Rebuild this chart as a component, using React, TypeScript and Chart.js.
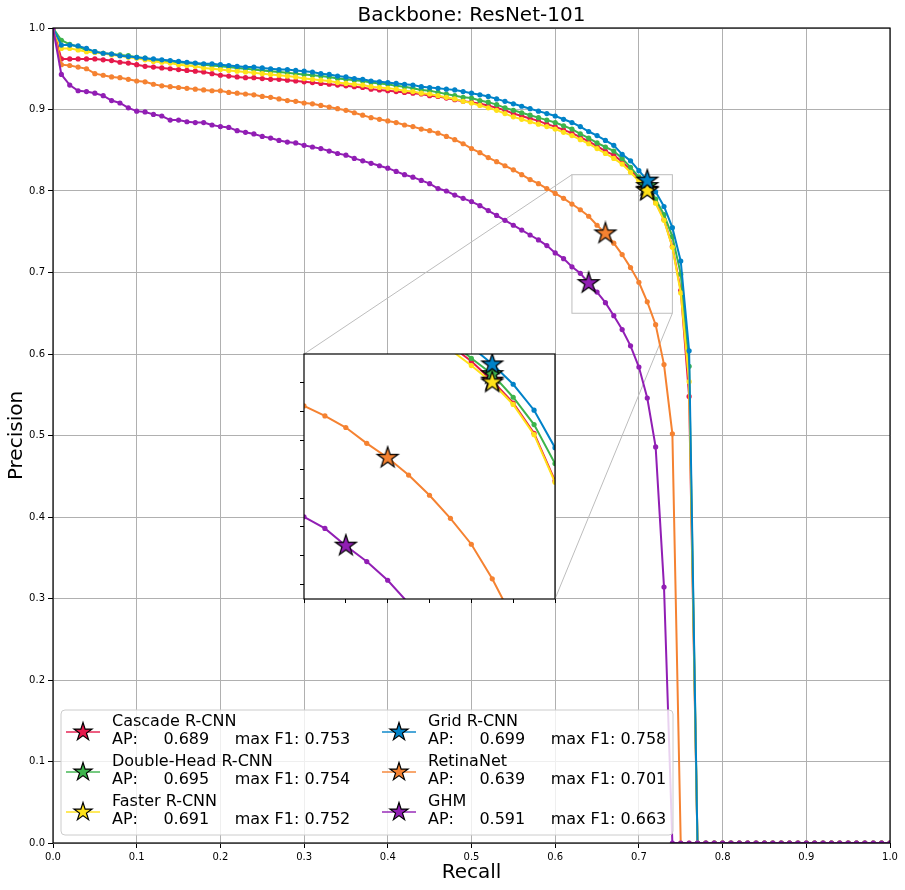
import React, { useEffect, useRef } from 'react';
import { Chart, registerables } from 'chart.js';

Chart.register(...registerables);
Chart.defaults.font.family = "'DejaVu Sans', sans-serif";

const TITLE = 'Backbone: ResNet-101';
const X_TITLE = 'Recall';
const Y_TITLE = 'Precision';

const RECALL = [
  0.00, 0.01, 0.02, 0.03, 0.04, 0.05, 0.06, 0.07, 0.08, 0.09,
  0.10, 0.11, 0.12, 0.13, 0.14, 0.15, 0.16, 0.17, 0.18, 0.19,
  0.20, 0.21, 0.22, 0.23, 0.24, 0.25, 0.26, 0.27, 0.28, 0.29,
  0.30, 0.31, 0.32, 0.33, 0.34, 0.35, 0.36, 0.37, 0.38, 0.39,
  0.40, 0.41, 0.42, 0.43, 0.44, 0.45, 0.46, 0.47, 0.48, 0.49,
  0.50, 0.51, 0.52, 0.53, 0.54, 0.55, 0.56, 0.57, 0.58, 0.59,
  0.60, 0.61, 0.62, 0.63, 0.64, 0.65, 0.66, 0.67, 0.68, 0.69,
  0.70, 0.71, 0.72, 0.73, 0.74, 0.75, 0.76, 0.77, 0.78, 0.79,
  0.80, 0.81, 0.82, 0.83, 0.84, 0.85, 0.86, 0.87, 0.88, 0.89,
  0.90, 0.91, 0.92, 0.93, 0.94, 0.95, 0.96, 0.97, 0.98, 0.99,
  1.00,
];

const CASCADE = [
  1.000, 0.962, 0.962, 0.962, 0.962, 0.962, 0.961, 0.960, 0.958, 0.957,
  0.955, 0.953, 0.952, 0.951, 0.950, 0.949, 0.948, 0.947, 0.946, 0.944,
  0.942, 0.941, 0.940, 0.939, 0.939, 0.938, 0.937, 0.937, 0.936, 0.935,
  0.934, 0.933, 0.932, 0.931, 0.930, 0.929, 0.928, 0.927, 0.925, 0.924,
  0.923, 0.922, 0.921, 0.920, 0.919, 0.917, 0.916, 0.914, 0.912, 0.910,
  0.909, 0.907, 0.905, 0.902, 0.899, 0.895, 0.892, 0.889, 0.886, 0.882,
  0.879, 0.875, 0.871, 0.866, 0.861, 0.855, 0.849, 0.844, 0.836, 0.826,
  0.815, 0.8015, 0.786, 0.765, 0.732, 0.678, 0.548, 0, 0, 0,
  0, 0, 0, 0, 0, 0, 0, 0, 0, 0,
  0, 0, 0, 0, 0, 0, 0, 0, 0, 0,
  0,
];

const DOUBLE_HEAD = [
  1.000, 0.985, 0.980, 0.977, 0.973, 0.971, 0.969, 0.968, 0.967, 0.966,
  0.964, 0.963, 0.961, 0.960, 0.959, 0.958, 0.957, 0.956, 0.955, 0.954,
  0.953, 0.952, 0.951, 0.950, 0.949, 0.948, 0.947, 0.946, 0.945, 0.944,
  0.943, 0.942, 0.941, 0.940, 0.938, 0.937, 0.936, 0.935, 0.933, 0.932,
  0.931, 0.929, 0.928, 0.926, 0.924, 0.923, 0.921, 0.919, 0.917, 0.915,
  0.914, 0.911, 0.909, 0.906, 0.902, 0.899, 0.896, 0.893, 0.890, 0.887,
  0.884, 0.880, 0.876, 0.870, 0.865, 0.859, 0.854, 0.849, 0.840, 0.829,
  0.817, 0.806, 0.790, 0.771, 0.744, 0.698, 0.585, 0, 0, 0,
  0, 0, 0, 0, 0, 0, 0, 0, 0, 0,
  0, 0, 0, 0, 0, 0, 0, 0, 0, 0,
  0,
];

const FASTER = [
  1.000, 0.975, 0.975, 0.973, 0.971, 0.970, 0.969, 0.967, 0.966, 0.964,
  0.963, 0.961, 0.959, 0.958, 0.957, 0.955, 0.954, 0.953, 0.951, 0.950,
  0.949, 0.948, 0.947, 0.946, 0.945, 0.944, 0.943, 0.942, 0.941, 0.940,
  0.938, 0.937, 0.936, 0.935, 0.933, 0.932, 0.931, 0.930, 0.928, 0.927,
  0.926, 0.925, 0.923, 0.922, 0.920, 0.919, 0.917, 0.915, 0.913, 0.910,
  0.908, 0.905, 0.902, 0.899, 0.895, 0.891, 0.888, 0.885, 0.882, 0.879,
  0.876, 0.872, 0.868, 0.863, 0.858, 0.852, 0.846, 0.840, 0.833, 0.823,
  0.812, 0.800, 0.785, 0.764, 0.731, 0.675, 0.566, 0, 0, 0,
  0, 0, 0, 0, 0, 0, 0, 0, 0, 0,
  0, 0, 0, 0, 0, 0, 0, 0, 0, 0,
  0,
];

const GRID = [
  1.000, 0.979, 0.979, 0.978, 0.975, 0.971, 0.969, 0.968, 0.966, 0.965,
  0.964, 0.963, 0.962, 0.961, 0.960, 0.959, 0.958, 0.957, 0.956, 0.956,
  0.955, 0.954, 0.953, 0.952, 0.952, 0.951, 0.950, 0.949, 0.949, 0.948,
  0.947, 0.946, 0.944, 0.943, 0.941, 0.940, 0.938, 0.937, 0.935, 0.934,
  0.933, 0.932, 0.931, 0.930, 0.928, 0.927, 0.926, 0.925, 0.924, 0.922,
  0.920, 0.918, 0.916, 0.913, 0.910, 0.907, 0.904, 0.901, 0.898, 0.895,
  0.892, 0.888, 0.884, 0.879, 0.873, 0.868, 0.862, 0.856, 0.845, 0.837,
  0.825, 0.813, 0.799, 0.781, 0.755, 0.714, 0.604, 0, 0, 0,
  0, 0, 0, 0, 0, 0, 0, 0, 0, 0,
  0, 0, 0, 0, 0, 0, 0, 0, 0, 0,
  0,
];

const RETINANET = [
  1.000, 0.955, 0.954, 0.952, 0.950, 0.944, 0.942, 0.940, 0.939, 0.937,
  0.935, 0.934, 0.931, 0.929, 0.928, 0.927, 0.926, 0.925, 0.924, 0.923,
  0.923, 0.921, 0.920, 0.919, 0.918, 0.916, 0.915, 0.913, 0.911, 0.910,
  0.908, 0.907, 0.905, 0.903, 0.901, 0.899, 0.896, 0.893, 0.890, 0.888,
  0.886, 0.884, 0.881, 0.879, 0.876, 0.874, 0.871, 0.867, 0.863, 0.858,
  0.852, 0.847, 0.841, 0.836, 0.831, 0.826, 0.820, 0.814, 0.809, 0.803,
  0.797, 0.791, 0.784, 0.777, 0.769, 0.758, 0.748, 0.736, 0.722, 0.706,
  0.688, 0.664, 0.636, 0.587, 0.502, 0, 0, 0, 0, 0,
  0, 0, 0, 0, 0, 0, 0, 0, 0, 0,
  0, 0, 0, 0, 0, 0, 0, 0, 0, 0,
  0,
];

const GHM = [
  1.000, 0.943, 0.930, 0.923, 0.922, 0.920, 0.917, 0.911, 0.908, 0.902,
  0.898, 0.897, 0.894, 0.892, 0.887, 0.887, 0.885, 0.884, 0.884, 0.881,
  0.879, 0.878, 0.874, 0.872, 0.870, 0.867, 0.865, 0.862, 0.860, 0.859,
  0.856, 0.854, 0.852, 0.849, 0.846, 0.844, 0.840, 0.837, 0.834, 0.831,
  0.828, 0.824, 0.820, 0.817, 0.813, 0.809, 0.803, 0.800, 0.795, 0.791,
  0.787, 0.782, 0.776, 0.770, 0.764, 0.758, 0.752, 0.746, 0.740, 0.733,
  0.724, 0.717, 0.707, 0.699, 0.687, 0.676, 0.663, 0.647, 0.630, 0.610,
  0.584, 0.546, 0.486, 0.314, 0, 0, 0, 0, 0, 0,
  0, 0, 0, 0, 0, 0, 0, 0, 0, 0,
  0, 0, 0, 0, 0, 0, 0, 0, 0, 0,
  0,
];

const SERIES_NAMES = ['Cascade R-CNN', 'Double-Head R-CNN', 'Faster R-CNN', 'Grid R-CNN', 'RetinaNet', 'GHM'];
const SERIES_VALUES = [CASCADE, DOUBLE_HEAD, FASTER, GRID, RETINANET, GHM];
const SERIES_COLORS = ['#e6194b', '#3cb44b', '#ffe119', '#0082c8', '#f58231', '#911eb4'];
const SERIES_AP = ['0.689', '0.695', '0.691', '0.699', '0.639', '0.591'];
const SERIES_MAX_F1 = ['0.753', '0.754', '0.752', '0.758', '0.701', '0.663'];
const STAR_RECALL = [0.71, 0.71, 0.71, 0.71, 0.66, 0.64];
const STAR_PRECISION = [0.8015, 0.806, 0.8003, 0.8128, 0.748, 0.687];

const MAIN_TICKS = [0.0, 0.1, 0.2, 0.3, 0.4, 0.5, 0.6, 0.7, 0.8, 0.9, 1.0];
const ZOOM_X = [0.62, 0.74];
const ZOOM_Y = [0.65, 0.82];
const INSET_X_TICKS = [0.62, 0.64, 0.66, 0.68, 0.70, 0.72, 0.74];
const INSET_Y_TICKS = [0.66, 0.68, 0.70, 0.72, 0.74, 0.76, 0.78, 0.80];
const INSET_AT_X = [0.3, 0.6];
const INSET_AT_Y = [0.3, 0.6];

const FONT = "'DejaVu Sans', sans-serif";

function starPath(ctx: CanvasRenderingContext2D, cx: number, cy: number, R: number) {
  ctx.beginPath();
  for (let k = 0; k < 10; k++) {
    const r = k % 2 === 0 ? R : R * 0.381966;
    const a = -Math.PI / 2 + (k * Math.PI) / 5;
    const x = cx + r * Math.cos(a);
    const y = cy + r * Math.sin(a);
    if (k === 0) ctx.moveTo(x, y);
    else ctx.lineTo(x, y);
  }
  ctx.closePath();
}

function drawStar(ctx: CanvasRenderingContext2D, cx: number, cy: number, R: number, color: string) {
  starPath(ctx, cx, cy, R);
  ctx.fillStyle = color;
  ctx.fill();
  ctx.lineWidth = 1.2;
  ctx.strokeStyle = '#000';
  ctx.lineJoin = 'miter';
  ctx.stroke();
}

function makeStarImage(color: string, R: number) {
  const size = Math.ceil(R * 2 + 4);
  const c = document.createElement('canvas');
  c.width = size;
  c.height = size;
  const ctx = c.getContext('2d')!;
  drawStar(ctx, size / 2, size / 2, R, color);
  return c;
}

function buildDatasets() {
  const lines = SERIES_VALUES.map((vals, i) => ({
    label: SERIES_NAMES[i],
    data: RECALL.map((r, j) => ({ x: r, y: vals[j] })),
    showLine: true,
    borderColor: SERIES_COLORS[i],
    backgroundColor: SERIES_COLORS[i],
    borderWidth: 2,
    pointRadius: 2.6,
    pointBorderWidth: 0,
    pointBackgroundColor: SERIES_COLORS[i],
    pointHoverRadius: 2.6,
    tension: 0,
    clip: 0,
    order: 20 - i,
  }));
  const stars = SERIES_NAMES.map((name, i) => ({
    label: name + ' max F1',
    data: [{ x: STAR_RECALL[i], y: STAR_PRECISION[i] }],
    showLine: false,
    pointStyle: makeStarImage(SERIES_COLORS[i], 11),
    pointRadius: 10,
    pointHoverRadius: 10,
    clip: 0,
    order: 6 - i,
  }));
  return [...lines, ...stars];
}

function roundRect(ctx: CanvasRenderingContext2D, x: number, y: number, w: number, h: number, r: number) {
  ctx.beginPath();
  ctx.moveTo(x + r, y);
  ctx.lineTo(x + w - r, y);
  ctx.quadraticCurveTo(x + w, y, x + w, y + r);
  ctx.lineTo(x + w, y + h - r);
  ctx.quadraticCurveTo(x + w, y + h, x + w - r, y + h);
  ctx.lineTo(x + r, y + h);
  ctx.quadraticCurveTo(x, y + h, x, y + h - r);
  ctx.lineTo(x, y + r);
  ctx.quadraticCurveTo(x, y, x + r, y);
  ctx.closePath();
}

const mainDecor = {
  id: 'mainDecor',
  beforeDatasetsDraw(chart: any) {
    const { ctx, scales } = chart;
    const xs = scales.x, ys = scales.y;
    ctx.save();
    ctx.strokeStyle = '#bdbdbd';
    ctx.lineWidth = 1;
    const x0 = xs.getPixelForValue(ZOOM_X[0]);
    const x1 = xs.getPixelForValue(ZOOM_X[1]);
    const y0 = ys.getPixelForValue(ZOOM_Y[1]);
    const y1 = ys.getPixelForValue(ZOOM_Y[0]);
    ctx.strokeRect(x0, y0, x1 - x0, y1 - y0);
    ctx.beginPath();
    ctx.moveTo(x0, y0);
    ctx.lineTo(xs.getPixelForValue(INSET_AT_X[0]), ys.getPixelForValue(INSET_AT_Y[1]));
    ctx.moveTo(x1, y1);
    ctx.lineTo(xs.getPixelForValue(INSET_AT_X[1]), ys.getPixelForValue(INSET_AT_Y[0]));
    ctx.stroke();
    ctx.restore();
  },
  afterDatasetsDraw(chart: any) {
    const { ctx, chartArea: a } = chart;
    ctx.save();
    ctx.strokeStyle = '#000';
    ctx.lineWidth = 1.2;
    ctx.strokeRect(a.left, a.top, a.right - a.left, a.bottom - a.top);
    ctx.restore();
  },
  afterDraw(chart: any) {
    const { ctx, chartArea: a } = chart;
    ctx.save();
    ctx.fillStyle = '#000';
    ctx.font = `20px ${FONT}`;
    ctx.textAlign = 'center';
    ctx.textBaseline = 'middle';
    ctx.fillText(TITLE, (a.left + a.right) / 2, a.top - 12);

    const lx = a.left + 8;
    const lw = 612;
    const lh = 125;
    const ly = a.bottom - 8 - lh;
    roundRect(ctx, lx, ly, lw, lh, 4);
    ctx.fillStyle = 'rgba(255,255,255,0.8)';
    ctx.fill();
    ctx.strokeStyle = '#cccccc';
    ctx.lineWidth = 1;
    ctx.stroke();

    for (let i = 0; i < SERIES_NAMES.length; i++) {
      const col = Math.floor(i / 3);
      const row = i % 3;
      const hx = lx + 5 + col * 316;
      const cy = ly + 22 + row * 40;
      ctx.save();
      ctx.globalAlpha = 0.7;
      ctx.strokeStyle = SERIES_COLORS[i];
      ctx.lineWidth = 2;
      ctx.beginPath();
      ctx.moveTo(hx, cy);
      ctx.lineTo(hx + 34, cy);
      ctx.stroke();
      ctx.restore();
      drawStar(ctx, hx + 17, cy, 9.5, SERIES_COLORS[i]);

      const tx = lx + 51 + col * 316;
      ctx.fillStyle = '#000';
      ctx.font = `16px ${FONT}`;
      ctx.textAlign = 'left';
      ctx.textBaseline = 'middle';
      ctx.fillText(SERIES_NAMES[i], tx, cy - 10);
      ctx.fillText(`AP:     ${SERIES_AP[i]}     max F1: ${SERIES_MAX_F1[i]}`, tx, cy + 7.5);
    }
    ctx.restore();
  },
};

const insetDecor = {
  id: 'insetDecor',
  beforeDraw(chart: any) {
    const { ctx, chartArea: a } = chart;
    ctx.save();
    ctx.fillStyle = '#ffffff';
    ctx.fillRect(a.left, a.top, a.right - a.left, a.bottom - a.top);
    ctx.restore();
  },
  afterDatasetsDraw(chart: any) {
    const { ctx, chartArea: a } = chart;
    ctx.save();
    ctx.strokeStyle = '#000';
    ctx.lineWidth = 1.2;
    ctx.strokeRect(a.left, a.top, a.right - a.left, a.bottom - a.top);
    ctx.restore();
  },
};

export default function App() {
  const mainRef = useRef<HTMLCanvasElement>(null);
  const insetRef = useRef<HTMLCanvasElement>(null);

  useEffect(() => {
    document.body.style.margin = '0';
    const tickFont = { size: 10, family: FONT };
    const titleFont = { size: 20, family: FONT };

    const main = new Chart(mainRef.current!, {
      type: 'scatter',
      data: { datasets: buildDatasets() as any },
      options: {
        animation: false,
        responsive: false,
        events: [],
        layout: { autoPadding: false, padding: { left: 0, right: 15, top: 28, bottom: 0 } },
        plugins: { legend: { display: false }, tooltip: { enabled: false }, title: { display: false } },
        scales: {
          x: {
            type: 'linear',
            min: 0,
            max: 1,
            afterBuildTicks: (s: any) => { s.ticks = MAIN_TICKS.map((value) => ({ value })); },
            afterFit: (s: any) => { s.height = 47; },
            ticks: { color: '#000', font: tickFont, padding: 3, maxRotation: 0, callback: (v: any) => Number(v).toFixed(1) },
            grid: { color: '#b0b0b0', lineWidth: 1, tickColor: '#000', tickLength: 5 },
            border: { display: false },
            title: { display: true, text: X_TITLE, color: '#000', font: titleFont, padding: { top: 0, bottom: 5 } },
          },
          y: {
            type: 'linear',
            min: 0,
            max: 1,
            afterBuildTicks: (s: any) => { s.ticks = MAIN_TICKS.map((value) => ({ value })); },
            afterFit: (s: any) => { s.width = 53; },
            ticks: { color: '#000', font: tickFont, padding: 3, callback: (v: any) => Number(v).toFixed(1) },
            grid: { color: '#b0b0b0', lineWidth: 1, tickColor: '#000', tickLength: 5 },
            border: { display: false },
            title: { display: true, text: Y_TITLE, color: '#000', font: titleFont, padding: { top: 5, bottom: 0 } },
          },
        },
      },
      plugins: [mainDecor],
    } as any);

    const xs: any = main.scales.x;
    const ys: any = main.scales.y;
    const L = Math.round(xs.getPixelForValue(INSET_AT_X[0]));
    const R = Math.round(xs.getPixelForValue(INSET_AT_X[1]));
    const T = Math.round(ys.getPixelForValue(INSET_AT_Y[1]));
    const B = Math.round(ys.getPixelForValue(INSET_AT_Y[0]));
    const ic = insetRef.current!;
    const iw = R - L + 10;
    const ih = B - T + 10;
    ic.width = iw;
    ic.height = ih;
    ic.style.left = `${L - 8}px`;
    ic.style.top = `${T - 2}px`;
    ic.style.width = `${iw}px`;
    ic.style.height = `${ih}px`;

    const inset = new Chart(ic, {
      type: 'scatter',
      data: { datasets: buildDatasets() as any },
      options: {
        animation: false,
        responsive: false,
        events: [],
        layout: { autoPadding: false, padding: { left: 0, right: 2, top: 2, bottom: 0 } },
        plugins: { legend: { display: false }, tooltip: { enabled: false }, title: { display: false } },
        scales: {
          x: {
            type: 'linear',
            min: ZOOM_X[0],
            max: ZOOM_X[1],
            afterBuildTicks: (s: any) => { s.ticks = INSET_X_TICKS.map((value) => ({ value })); },
            afterFit: (s: any) => { s.height = 8; },
            ticks: { display: false },
            grid: { drawOnChartArea: false, drawTicks: true, tickLength: 4, tickColor: '#000', lineWidth: 1 },
            border: { display: false },
          },
          y: {
            type: 'linear',
            min: ZOOM_Y[0],
            max: ZOOM_Y[1],
            afterBuildTicks: (s: any) => { s.ticks = INSET_Y_TICKS.map((value) => ({ value })); },
            afterFit: (s: any) => { s.width = 8; },
            ticks: { display: false },
            grid: { drawOnChartArea: false, drawTicks: true, tickLength: 4, tickColor: '#000', lineWidth: 1 },
            border: { display: false },
          },
        },
      },
      plugins: [insetDecor],
    } as any);

    return () => {
      inset.destroy();
      main.destroy();
    };
  }, []);

  return (
    <div style={{ position: 'relative', width: 905, height: 890 }}>
      <canvas
        ref={mainRef}
        width={905}
        height={890}
        style={{ position: 'absolute', left: 0, top: 0, width: 905, height: 890 }}
      />
      <canvas ref={insetRef} style={{ position: 'absolute' }} />
    </div>
  );
}
